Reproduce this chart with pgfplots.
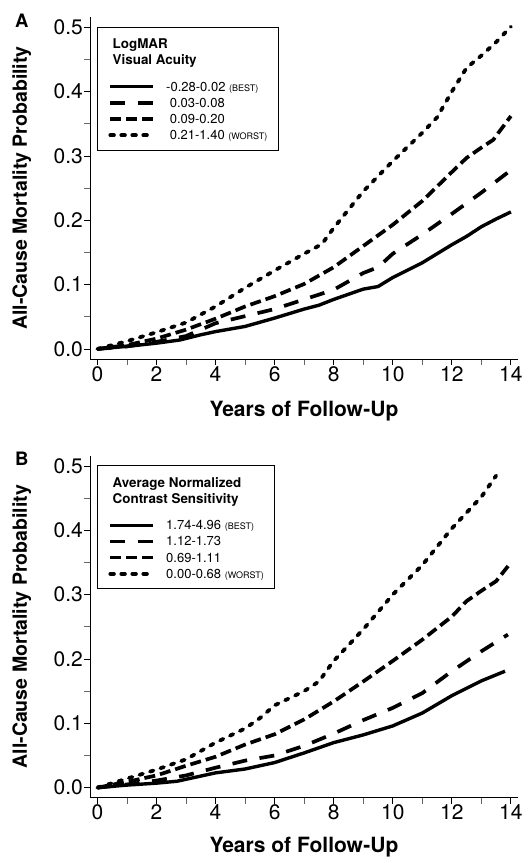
\documentclass[border=0pt]{standalone}
\usepackage{pgfplots}
\pgfplotsset{compat=1.18}
\usepackage{fontspec}
\setmainfont{TeX Gyre Heros}

\pgfplotsset{
  panel/.style={
    scale only axis, width=428pt, height=342pt,
    xmin=-0.25, xmax=14.24, ymin=-0.0156, ymax=0.516,
    axis x line=bottom, axis y line=left,
    axis line style={-, line width=0.9pt},
    xtick={0,2,4,6,8,10,12,14}, ytick={0,0.1,0.2,0.3,0.4,0.5},
    minor x tick num=1, minor y tick num=1,
    tick align=outside, major tick length=6pt, minor tick length=6pt,
    major tick style={line width=0.9pt, black},
    minor tick style={line width=0.7pt, black!60},
    /pgf/number format/assume math mode=true,
    yticklabel style={/pgf/number format/fixed, /pgf/number format/precision=1,
      /pgf/number format/fixed zerofill, inner sep=1pt},
    xticklabel style={inner sep=1pt},
    ticklabel style={font=\fontsize{21}{21}\selectfont},
    xlabel={Years of Follow-Up},
    ylabel={All-Cause Mortality Probability},
    xlabel style={at={(axis description cs:0.5,-0.167)}, anchor=base, inner sep=0pt,
      font=\bfseries\fontsize{21}{21}\selectfont},
    ylabel style={at={(axis description cs:-0.182,0.5)}, anchor=north, inner sep=0pt,
      font=\bfseries\fontsize{19.5}{19.5}\selectfont},
    legend cell align=left,
    legend image code/.code={\draw[##1] (0pt,4.5pt) -- (43pt,4.5pt);},
    legend style={at={(rel axis cs:0.017,0.972)}, anchor=north west,
      draw=black, line width=0.9pt, inner xsep=10.7pt, inner ysep=8pt,
      column sep=11pt, row sep=0pt, font=\fontsize{13}{14}\selectfont,
      nodes={inner sep=0pt, text height=11.2pt, text depth=5pt, anchor=base west}},
  },
  best/.style={black, line width=3.4pt, line join=round},
  second/.style={black, line width=3.7pt, dash pattern=on 15pt off 12.5pt},
  third/.style={black, line width=3.7pt, dash pattern=on 11pt off 5pt},
  worst/.style={black, line width=3.8pt, dash pattern=on 3.6pt off 7.4pt, line cap=round},
}
\newcommand{\legtitle}[1]{\makebox[0pt][l]{\hspace*{-54pt}\bfseries\fontsize{13.4}{14}\selectfont #1}}
\newcommand{\smallcap}[1]{{\fontsize{9}{9}\selectfont #1}}

\begin{document}
\begin{tikzpicture}
\useasboundingbox (0,0) rectangle (524pt,857pt);

% Panel A: visual acuity
\begin{axis}[panel, at={(90pt,498pt)}, anchor=south west]
\addlegendimage{empty legend}
\addlegendentry[text height=13.6pt]{\legtitle{LogMAR}}
\addlegendimage{empty legend}
\addlegendentry[text depth=15pt]{\legtitle{Visual Acuity}}
\addplot[best] coordinates {
 (0,0) (1,0.004) (2,0.009) (2.8,0.014) (3.5,0.022) (4,0.027) (5,0.035) (6,0.048)
 (7,0.062) (7.5,0.068) (8,0.077) (9,0.093) (9.5,0.097) (10,0.111) (11,0.134)
 (12,0.162) (12.5,0.175) (13,0.19) (13.5,0.202) (14,0.213)};
\addlegendentry{-0.28-0.02 \smallcap{(BEST)}}
\addplot[second] coordinates {
 (0,0) (1,0.004) (2,0.011) (3,0.02) (4,0.04) (5,0.051) (6,0.062) (7,0.077)
 (8,0.092) (9,0.118) (9.5,0.127) (10,0.148) (11,0.178) (12,0.21) (13,0.243) (14,0.278)};
\addlegendentry{\ 0.03-0.08}
\addplot[third] coordinates {
 (0,0) (1,0.006) (2,0.016) (3,0.03) (4,0.047) (5,0.066) (6,0.082) (7,0.101)
 (8,0.127) (9,0.16) (10,0.193) (11,0.23) (12,0.275) (12.5,0.297) (13,0.313)
 (13.4,0.325) (14,0.362)};
\addlegendentry{\ 0.09-0.20}
\addplot[worst] coordinates {
 (0,0) (1,0.012) (2,0.026) (3,0.041) (4,0.066) (5,0.095) (6,0.122) (7,0.148)
 (7.6,0.163) (8,0.188) (9,0.245) (10,0.292) (11,0.336) (11.5,0.36) (12,0.4)
 (12.5,0.437) (13,0.456) (13.5,0.477) (14,0.501)};
\addlegendentry[text depth=2.5pt]{\ 0.21-1.40 \smallcap{(WORST)}}
\end{axis}

% Panel B: contrast sensitivity
\begin{axis}[panel, at={(90pt,59.3pt)}, anchor=south west,
  xlabel style={at={(axis description cs:0.5,-0.159)}}]
\addlegendimage{empty legend}
\addlegendentry[text height=13.6pt]{\legtitle{Average Normalized}}
\addlegendimage{empty legend}
\addlegendentry[text depth=15pt]{\legtitle{Contrast Sensitivity}}
\addplot[best] coordinates {
 (0,0) (1,0.004) (2,0.007) (2.7,0.01) (3,0.013) (4,0.023) (5,0.029) (6,0.039)
 (7,0.054) (8,0.07) (9,0.082) (10,0.096) (11,0.116) (12,0.143) (13,0.166) (13.8,0.181)};
\addlegendentry{1.74-4.96 \smallcap{(BEST)}}
\addplot[second] coordinates {
 (0,0) (1,0.005) (2,0.011) (3,0.019) (4,0.031) (5,0.042) (6,0.05) (7,0.065)
 (8,0.084) (9,0.105) (10,0.124) (11,0.147) (12,0.181) (13,0.212) (13.9,0.238)};
\addlegendentry{1.12-1.73}
\addplot[third] coordinates {
 (0,0) (1,0.009) (2,0.019) (3,0.034) (4,0.048) (5,0.067) (6,0.083) (7,0.106)
 (8,0.134) (9,0.165) (10,0.197) (11,0.23) (12,0.266) (12.5,0.29) (13,0.306)
 (13.5,0.321) (14,0.35)};
\addlegendentry{0.69-1.11}
\addplot[worst] coordinates {
 (0,0) (1,0.014) (2,0.028) (3,0.044) (4,0.07) (5,0.092) (5.5,0.108) (6,0.128)
 (7,0.15) (7.5,0.165) (8,0.197) (9,0.246) (10,0.3) (11,0.346) (12,0.403)
 (13,0.452) (13.5,0.485)};
\addlegendentry[text depth=2.5pt]{0.00-0.68 \smallcap{(WORST)}}
\end{axis}

\node[anchor=base west, inner sep=0pt, font=\bfseries\fontsize{18.5}{18.5}\selectfont] at (15pt,829pt) {A};
\node[anchor=base west, inner sep=0pt, font=\bfseries\fontsize{18.5}{18.5}\selectfont] at (15pt,391pt) {B};
\end{tikzpicture}
\end{document}
